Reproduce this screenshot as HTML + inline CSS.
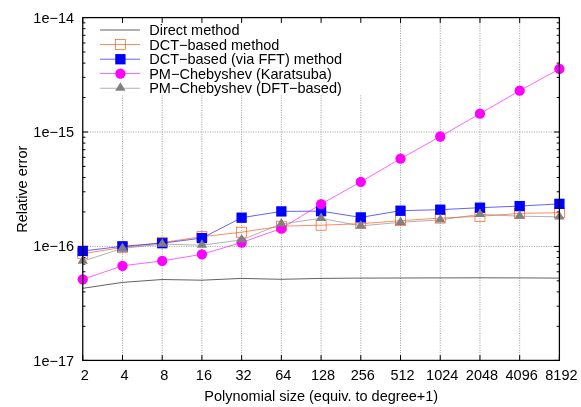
<!DOCTYPE html>
<html><head><meta charset="utf-8"><title>plot</title>
<style>html,body{margin:0;padding:0;background:#fff;overflow:hidden}body{width:581px;height:407px;position:relative;font-family:"Liberation Sans",sans-serif}</style>
</head><body>
<svg width="581" height="407" viewBox="0 0 581 407" style="position:absolute;left:0;top:0;display:block;will-change:transform">
<rect x="0" y="0" width="581" height="407" fill="#ffffff"/>
<g stroke="#787878" stroke-width="0.92" stroke-dasharray="1 1.4" fill="none" opacity="0.8">
<line x1="122.47" y1="360.4" x2="122.47" y2="95.0"/>
<line x1="162.19" y1="360.4" x2="162.19" y2="95.0"/>
<line x1="201.91" y1="360.4" x2="201.91" y2="95.0"/>
<line x1="241.63" y1="360.4" x2="241.63" y2="95.0"/>
<line x1="281.35" y1="360.4" x2="281.35" y2="95.0"/>
<line x1="321.07" y1="360.4" x2="321.07" y2="95.0"/>
<line x1="360.80" y1="360.4" x2="360.80" y2="95.0"/>
<line x1="400.52" y1="360.4" x2="400.52" y2="17.6"/>
<line x1="440.24" y1="360.4" x2="440.24" y2="17.6"/>
<line x1="479.96" y1="360.4" x2="479.96" y2="17.6"/>
<line x1="519.68" y1="360.4" x2="519.68" y2="17.6"/>
<line x1="82.75" y1="132.0" x2="559.4" y2="132.0"/>
<line x1="82.75" y1="246.4" x2="559.4" y2="246.4"/>
</g>
<g stroke="#000" stroke-width="1" fill="none">
<line x1="82.75" y1="360.4" x2="82.75" y2="355.09999999999997"/>
<line x1="82.75" y1="17.6" x2="82.75" y2="22.900000000000002"/>
<line x1="122.47" y1="360.4" x2="122.47" y2="355.09999999999997"/>
<line x1="122.47" y1="17.6" x2="122.47" y2="22.900000000000002"/>
<line x1="162.19" y1="360.4" x2="162.19" y2="355.09999999999997"/>
<line x1="162.19" y1="17.6" x2="162.19" y2="22.900000000000002"/>
<line x1="201.91" y1="360.4" x2="201.91" y2="355.09999999999997"/>
<line x1="201.91" y1="17.6" x2="201.91" y2="22.900000000000002"/>
<line x1="241.63" y1="360.4" x2="241.63" y2="355.09999999999997"/>
<line x1="241.63" y1="17.6" x2="241.63" y2="22.900000000000002"/>
<line x1="281.35" y1="360.4" x2="281.35" y2="355.09999999999997"/>
<line x1="281.35" y1="17.6" x2="281.35" y2="22.900000000000002"/>
<line x1="321.07" y1="360.4" x2="321.07" y2="355.09999999999997"/>
<line x1="321.07" y1="17.6" x2="321.07" y2="22.900000000000002"/>
<line x1="360.80" y1="360.4" x2="360.80" y2="355.09999999999997"/>
<line x1="360.80" y1="17.6" x2="360.80" y2="22.900000000000002"/>
<line x1="400.52" y1="360.4" x2="400.52" y2="355.09999999999997"/>
<line x1="400.52" y1="17.6" x2="400.52" y2="22.900000000000002"/>
<line x1="440.24" y1="360.4" x2="440.24" y2="355.09999999999997"/>
<line x1="440.24" y1="17.6" x2="440.24" y2="22.900000000000002"/>
<line x1="479.96" y1="360.4" x2="479.96" y2="355.09999999999997"/>
<line x1="479.96" y1="17.6" x2="479.96" y2="22.900000000000002"/>
<line x1="519.68" y1="360.4" x2="519.68" y2="355.09999999999997"/>
<line x1="519.68" y1="17.6" x2="519.68" y2="22.900000000000002"/>
<line x1="559.40" y1="360.4" x2="559.40" y2="355.09999999999997"/>
<line x1="559.40" y1="17.6" x2="559.40" y2="22.900000000000002"/>
<line x1="82.75" y1="17.6" x2="88.05" y2="17.6"/>
<line x1="559.4" y1="17.6" x2="554.1" y2="17.6"/>
<line x1="82.75" y1="97.53" x2="85.45" y2="97.53"/>
<line x1="559.4" y1="97.53" x2="556.6999999999999" y2="97.53"/>
<line x1="82.75" y1="77.39" x2="85.45" y2="77.39"/>
<line x1="559.4" y1="77.39" x2="556.6999999999999" y2="77.39"/>
<line x1="82.75" y1="63.10" x2="85.45" y2="63.10"/>
<line x1="559.4" y1="63.10" x2="556.6999999999999" y2="63.10"/>
<line x1="82.75" y1="52.02" x2="85.45" y2="52.02"/>
<line x1="559.4" y1="52.02" x2="556.6999999999999" y2="52.02"/>
<line x1="82.75" y1="42.97" x2="85.45" y2="42.97"/>
<line x1="559.4" y1="42.97" x2="556.6999999999999" y2="42.97"/>
<line x1="82.75" y1="35.31" x2="85.45" y2="35.31"/>
<line x1="559.4" y1="35.31" x2="556.6999999999999" y2="35.31"/>
<line x1="82.75" y1="28.68" x2="85.45" y2="28.68"/>
<line x1="559.4" y1="28.68" x2="556.6999999999999" y2="28.68"/>
<line x1="82.75" y1="22.83" x2="85.45" y2="22.83"/>
<line x1="559.4" y1="22.83" x2="556.6999999999999" y2="22.83"/>
<line x1="82.75" y1="132.0" x2="88.05" y2="132.0"/>
<line x1="559.4" y1="132.0" x2="554.1" y2="132.0"/>
<line x1="82.75" y1="211.93" x2="85.45" y2="211.93"/>
<line x1="559.4" y1="211.93" x2="556.6999999999999" y2="211.93"/>
<line x1="82.75" y1="191.79" x2="85.45" y2="191.79"/>
<line x1="559.4" y1="191.79" x2="556.6999999999999" y2="191.79"/>
<line x1="82.75" y1="177.50" x2="85.45" y2="177.50"/>
<line x1="559.4" y1="177.50" x2="556.6999999999999" y2="177.50"/>
<line x1="82.75" y1="166.42" x2="85.45" y2="166.42"/>
<line x1="559.4" y1="166.42" x2="556.6999999999999" y2="166.42"/>
<line x1="82.75" y1="157.37" x2="85.45" y2="157.37"/>
<line x1="559.4" y1="157.37" x2="556.6999999999999" y2="157.37"/>
<line x1="82.75" y1="149.71" x2="85.45" y2="149.71"/>
<line x1="559.4" y1="149.71" x2="556.6999999999999" y2="149.71"/>
<line x1="82.75" y1="143.08" x2="85.45" y2="143.08"/>
<line x1="559.4" y1="143.08" x2="556.6999999999999" y2="143.08"/>
<line x1="82.75" y1="137.23" x2="85.45" y2="137.23"/>
<line x1="559.4" y1="137.23" x2="556.6999999999999" y2="137.23"/>
<line x1="82.75" y1="246.4" x2="88.05" y2="246.4"/>
<line x1="559.4" y1="246.4" x2="554.1" y2="246.4"/>
<line x1="82.75" y1="326.33" x2="85.45" y2="326.33"/>
<line x1="559.4" y1="326.33" x2="556.6999999999999" y2="326.33"/>
<line x1="82.75" y1="306.19" x2="85.45" y2="306.19"/>
<line x1="559.4" y1="306.19" x2="556.6999999999999" y2="306.19"/>
<line x1="82.75" y1="291.90" x2="85.45" y2="291.90"/>
<line x1="559.4" y1="291.90" x2="556.6999999999999" y2="291.90"/>
<line x1="82.75" y1="280.82" x2="85.45" y2="280.82"/>
<line x1="559.4" y1="280.82" x2="556.6999999999999" y2="280.82"/>
<line x1="82.75" y1="271.77" x2="85.45" y2="271.77"/>
<line x1="559.4" y1="271.77" x2="556.6999999999999" y2="271.77"/>
<line x1="82.75" y1="264.11" x2="85.45" y2="264.11"/>
<line x1="559.4" y1="264.11" x2="556.6999999999999" y2="264.11"/>
<line x1="82.75" y1="257.48" x2="85.45" y2="257.48"/>
<line x1="559.4" y1="257.48" x2="556.6999999999999" y2="257.48"/>
<line x1="82.75" y1="251.63" x2="85.45" y2="251.63"/>
<line x1="559.4" y1="251.63" x2="556.6999999999999" y2="251.63"/>
<line x1="82.75" y1="360.4" x2="88.05" y2="360.4"/>
<line x1="559.4" y1="360.4" x2="554.1" y2="360.4"/>
</g>
<g font-family="'Liberation Sans', sans-serif">
<text x="149.2" y="35.00" font-size="14.5" fill="#000">Direct method</text>
<line x1="100.0" y1="30.0" x2="140.0" y2="30.0" stroke="#000000" stroke-width="0.62"/>
<polyline points="82.75,288.30 122.47,282.40 162.19,279.50 201.91,280.20 241.63,278.40 281.35,279.30 321.07,278.40 360.80,278.10 400.52,278.00 440.24,277.90 479.96,277.80 519.68,277.90 559.40,278.10" fill="none" stroke="#000000" stroke-width="0.62"/>
<text x="149.2" y="49.50" font-size="14.5" fill="#000">DCT−based method</text>
<line x1="100.0" y1="44.5" x2="140.0" y2="44.5" stroke="#ff4500" stroke-width="0.62"/>
<rect x="115.40" y="39.50" width="10.00" height="10.00" fill="none" stroke="#ff4500" stroke-width="0.62"/>
<polyline points="82.75,253.60 122.47,247.50 162.19,242.50 201.91,236.70 241.63,232.20 281.35,226.20 321.07,225.20 360.80,223.70 400.52,220.70 440.24,218.10 479.96,216.30 519.68,213.40 559.40,212.70" fill="none" stroke="#ff4500" stroke-width="0.62"/>
<rect x="77.75" y="248.60" width="10.00" height="10.00" fill="none" stroke="#ff4500" stroke-width="0.62"/>
<rect x="117.47" y="242.50" width="10.00" height="10.00" fill="none" stroke="#ff4500" stroke-width="0.62"/>
<rect x="157.19" y="237.50" width="10.00" height="10.00" fill="none" stroke="#ff4500" stroke-width="0.62"/>
<rect x="196.91" y="231.70" width="10.00" height="10.00" fill="none" stroke="#ff4500" stroke-width="0.62"/>
<rect x="236.63" y="227.20" width="10.00" height="10.00" fill="none" stroke="#ff4500" stroke-width="0.62"/>
<rect x="276.35" y="221.20" width="10.00" height="10.00" fill="none" stroke="#ff4500" stroke-width="0.62"/>
<rect x="316.07" y="220.20" width="10.00" height="10.00" fill="none" stroke="#ff4500" stroke-width="0.62"/>
<rect x="355.80" y="218.70" width="10.00" height="10.00" fill="none" stroke="#ff4500" stroke-width="0.62"/>
<rect x="395.52" y="215.70" width="10.00" height="10.00" fill="none" stroke="#ff4500" stroke-width="0.62"/>
<rect x="435.24" y="213.10" width="10.00" height="10.00" fill="none" stroke="#ff4500" stroke-width="0.62"/>
<rect x="474.96" y="211.30" width="10.00" height="10.00" fill="none" stroke="#ff4500" stroke-width="0.62"/>
<rect x="514.68" y="208.40" width="10.00" height="10.00" fill="none" stroke="#ff4500" stroke-width="0.62"/>
<rect x="554.40" y="207.70" width="10.00" height="10.00" fill="none" stroke="#ff4500" stroke-width="0.62"/>
<text x="149.2" y="64.22" font-size="14.5" fill="#000">DCT−based (via FFT) method</text>
<line x1="100.0" y1="59.22" x2="140.0" y2="59.22" stroke="#0000ff" stroke-width="0.62"/>
<rect x="115.25" y="54.07" width="10.30" height="10.30" fill="#0000ff"/>
<polyline points="82.75,251.00 122.47,246.30 162.19,243.20 201.91,238.10 241.63,217.70 281.35,211.40 321.07,211.15 360.80,217.40 400.52,210.70 440.24,209.70 479.96,207.70 519.68,206.10 559.40,203.85" fill="none" stroke="#0000ff" stroke-width="0.62"/>
<rect x="77.60" y="245.85" width="10.30" height="10.30" fill="#0000ff"/>
<rect x="117.32" y="241.15" width="10.30" height="10.30" fill="#0000ff"/>
<rect x="157.04" y="238.05" width="10.30" height="10.30" fill="#0000ff"/>
<rect x="196.76" y="232.95" width="10.30" height="10.30" fill="#0000ff"/>
<rect x="236.48" y="212.55" width="10.30" height="10.30" fill="#0000ff"/>
<rect x="276.20" y="206.25" width="10.30" height="10.30" fill="#0000ff"/>
<rect x="315.93" y="206.00" width="10.30" height="10.30" fill="#0000ff"/>
<rect x="355.65" y="212.25" width="10.30" height="10.30" fill="#0000ff"/>
<rect x="395.37" y="205.55" width="10.30" height="10.30" fill="#0000ff"/>
<rect x="435.09" y="204.55" width="10.30" height="10.30" fill="#0000ff"/>
<rect x="474.81" y="202.55" width="10.30" height="10.30" fill="#0000ff"/>
<rect x="514.53" y="200.95" width="10.30" height="10.30" fill="#0000ff"/>
<rect x="554.25" y="198.70" width="10.30" height="10.30" fill="#0000ff"/>
<text x="149.2" y="78.55" font-size="14.5" fill="#000">PM−Chebyshev (Karatsuba)</text>
<line x1="100.0" y1="73.55" x2="140.0" y2="73.55" stroke="#ff00ff" stroke-width="0.62"/>
<circle cx="120.40" cy="73.55" r="5.15" fill="#ff00ff"/>
<polyline points="82.75,279.30 122.47,265.80 162.19,260.90 201.91,254.30 241.63,242.50 281.35,228.50 321.07,204.10 360.80,181.80 400.52,158.70 440.24,136.50 479.96,113.70 519.68,90.70 559.40,68.90" fill="none" stroke="#ff00ff" stroke-width="0.62"/>
<circle cx="82.75" cy="279.30" r="5.15" fill="#ff00ff"/>
<circle cx="122.47" cy="265.80" r="5.15" fill="#ff00ff"/>
<circle cx="162.19" cy="260.90" r="5.15" fill="#ff00ff"/>
<circle cx="201.91" cy="254.30" r="5.15" fill="#ff00ff"/>
<circle cx="241.63" cy="242.50" r="5.15" fill="#ff00ff"/>
<circle cx="281.35" cy="228.50" r="5.15" fill="#ff00ff"/>
<circle cx="321.07" cy="204.10" r="5.15" fill="#ff00ff"/>
<circle cx="360.80" cy="181.80" r="5.15" fill="#ff00ff"/>
<circle cx="400.52" cy="158.70" r="5.15" fill="#ff00ff"/>
<circle cx="440.24" cy="136.50" r="5.15" fill="#ff00ff"/>
<circle cx="479.96" cy="113.70" r="5.15" fill="#ff00ff"/>
<circle cx="519.68" cy="90.70" r="5.15" fill="#ff00ff"/>
<circle cx="559.40" cy="68.90" r="5.15" fill="#ff00ff"/>
<text x="149.2" y="93.25" font-size="14.5" fill="#000">PM−Chebyshev (DFT−based)</text>
<line x1="100.0" y1="88.25" x2="140.0" y2="88.25" stroke="#808080" stroke-width="0.62"/>
<polygon points="120.40,82.35 115.20,90.85 125.60,90.85" fill="#808080"/>
<polyline points="82.75,261.10 122.47,248.40 162.19,244.10 201.91,245.20 241.63,239.90 281.35,223.90 321.07,218.30 360.80,225.90 400.52,222.30 440.24,219.90 479.96,214.30 519.68,216.20 559.40,216.80" fill="none" stroke="#808080" stroke-width="0.62"/>
<polygon points="82.75,255.20 77.55,263.70 87.95,263.70" fill="#808080"/>
<polygon points="122.47,242.50 117.27,251.00 127.67,251.00" fill="#808080"/>
<polygon points="162.19,238.20 156.99,246.70 167.39,246.70" fill="#808080"/>
<polygon points="201.91,239.30 196.71,247.80 207.11,247.80" fill="#808080"/>
<polygon points="241.63,234.00 236.43,242.50 246.83,242.50" fill="#808080"/>
<polygon points="281.35,218.00 276.15,226.50 286.55,226.50" fill="#808080"/>
<polygon points="321.07,212.40 315.88,220.90 326.27,220.90" fill="#808080"/>
<polygon points="360.80,220.00 355.60,228.50 366.00,228.50" fill="#808080"/>
<polygon points="400.52,216.40 395.32,224.90 405.72,224.90" fill="#808080"/>
<polygon points="440.24,214.00 435.04,222.50 445.44,222.50" fill="#808080"/>
<polygon points="479.96,208.40 474.76,216.90 485.16,216.90" fill="#808080"/>
<polygon points="519.68,210.30 514.48,218.80 524.88,218.80" fill="#808080"/>
<polygon points="559.40,210.90 554.20,219.40 564.60,219.40" fill="#808080"/>
<g stroke="#000" stroke-width="1.25" fill="none">
<rect x="82.75" y="17.6" width="476.65" height="342.80"/>
</g>
<text x="74.1" y="22.5" font-size="14.5" text-anchor="end" fill="#000">1e−14</text>
<text x="74.1" y="136.9" font-size="14.5" text-anchor="end" fill="#000">1e−15</text>
<text x="74.1" y="251.0" font-size="14.5" text-anchor="end" fill="#000">1e−16</text>
<text x="74.1" y="365.5" font-size="14.5" text-anchor="end" fill="#000">1e−17</text>
<text x="84.75" y="379.6" font-size="14.5" text-anchor="middle" fill="#000">2</text>
<text x="124.47" y="379.6" font-size="14.5" text-anchor="middle" fill="#000">4</text>
<text x="164.19" y="379.6" font-size="14.5" text-anchor="middle" fill="#000">8</text>
<text x="203.91" y="379.6" font-size="14.5" text-anchor="middle" fill="#000">16</text>
<text x="243.63" y="379.6" font-size="14.5" text-anchor="middle" fill="#000">32</text>
<text x="283.35" y="379.6" font-size="14.5" text-anchor="middle" fill="#000">64</text>
<text x="323.07" y="379.6" font-size="14.5" text-anchor="middle" fill="#000">128</text>
<text x="362.80" y="379.6" font-size="14.5" text-anchor="middle" fill="#000">256</text>
<text x="402.52" y="379.6" font-size="14.5" text-anchor="middle" fill="#000">512</text>
<text x="442.24" y="379.6" font-size="14.5" text-anchor="middle" fill="#000">1024</text>
<text x="481.96" y="379.6" font-size="14.5" text-anchor="middle" fill="#000">2048</text>
<text x="521.68" y="379.6" font-size="14.5" text-anchor="middle" fill="#000">4096</text>
<text x="561.40" y="379.6" font-size="14.5" text-anchor="middle" fill="#000">8192</text>
<text x="321.2" y="401.4" font-size="14.5" text-anchor="middle" fill="#000">Polynomial size (equiv. to degree+1)</text>
<text transform="translate(27.1,189.2) rotate(-90)" font-size="14.5" text-anchor="middle" fill="#000">Relative error</text>
</g>
</svg>
</body></html>
